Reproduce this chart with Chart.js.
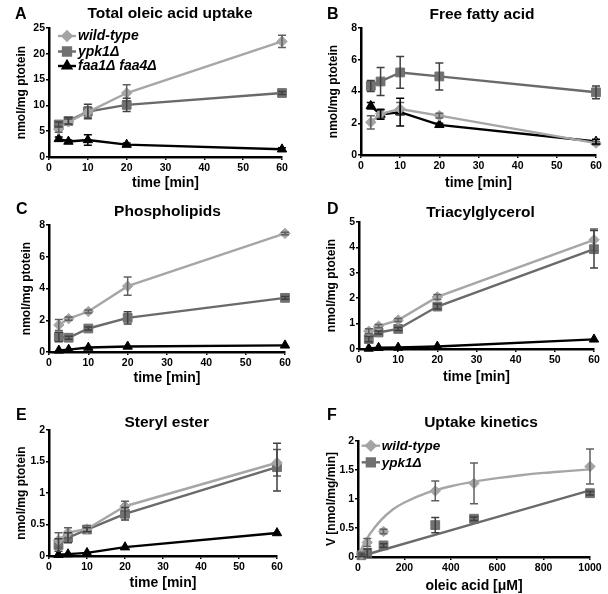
<!DOCTYPE html>
<html>
<head>
<meta charset="utf-8">
<script src="https://cdn.jsdelivr.net/npm/chart.js@4.4.0/dist/chart.umd.min.js"></script>
<style>
  body { margin: 0; background: #fff; }
  #fig { position: relative; width: 608px; height: 594px; }
  canvas { position: absolute; }
</style>
</head>
<body>
<div id="fig">
  <canvas id="panelA" width="304" height="195" style="left:0;top:0"></canvas>
  <canvas id="panelB" width="304" height="195" style="left:304px;top:0"></canvas>
  <canvas id="panelC" width="304" height="200" style="left:0;top:195px"></canvas>
  <canvas id="panelD" width="304" height="200" style="left:304px;top:195px"></canvas>
  <canvas id="panelE" width="304" height="199" style="left:0;top:395px"></canvas>
  <canvas id="panelF" width="304" height="199" style="left:304px;top:395px"></canvas>
</div>
<script>
const strains = ["wild-type", "ypk1Δ", "faa1Δ faa4Δ"];
const timePoints = [2.5, 5, 10, 20, 60];

// A - total oleic acid uptake
const uptakeWt = [5.4, 6.8, 8.7, 12.4, 22.4];
const uptakeWtErr = [0.6, 0.5, 1.0, 1.6, 1.2];
const uptakeYpk = [6.3, 7.0, 8.8, 10.1, 12.4];
const uptakeYpkErr = [0.5, 0.6, 1.4, 1.3, 0.3];
const uptakeFaa = [3.5, 3.0, 3.3, 2.4, 1.5];
const uptakeFaaErr = [0.4, 0.3, 1.0, 0.3, 0.3];

// B - free fatty acid
const ffaWt = [2.06, 2.6, 2.9, 2.48, 0.75];
const ffaWtErr = [0.42, 0.3, 0.4, 0.15, 0.1];
const ffaYpk = [4.35, 4.63, 5.2, 4.95, 3.95];
const ffaYpkErr = [0.35, 0.88, 1.0, 0.85, 0.4];
const ffaFaa = [3.1, 2.55, 2.7, 1.9, 0.85];
const ffaFaaErr = [0.2, 0.3, 0.88, 0.1, 0.15];

// C - phospholipids
const plWt = [1.7, 2.1, 2.55, 4.15, 7.47];
const plWtErr = [0.35, 0.1, 0.1, 0.58, 0.08];
const plYpk = [0.95, 0.9, 1.48, 2.15, 3.41];
const plYpkErr = [0.3, 0.1, 0.1, 0.38, 0.08];
const plFaa = [0.1, 0.15, 0.28, 0.35, 0.42];
const plFaaErr = [0, 0, 0, 0, 0];

// D - triacylglycerol
const tagWt = [0.7, 0.9, 1.14, 2.05, 4.3];
const tagWtErr = [0.1, 0.06, 0.06, 0.1, 0.42];
const tagYpk = [0.39, 0.65, 0.79, 1.67, 3.93];
const tagYpkErr = [0.1, 0.06, 0.06, 0.1, 0.74];
const tagFaa = [0.02, 0.05, 0.06, 0.1, 0.38];
const tagFaaErr = [0, 0, 0, 0, 0];

// E - steryl ester
const seWt = [0.25, 0.37, 0.43, 0.79, 1.48];
const seWtErr = [0.12, 0.08, 0.05, 0.08, 0.21];
const seYpk = [0.175, 0.29, 0.42, 0.67, 1.41];
const seYpkErr = [0.1, 0.08, 0.03, 0.1, 0.38];
const seFaa = [0.02, 0.03, 0.05, 0.14, 0.365];
const seFaaErr = [0, 0, 0, 0, 0];

// F - uptake kinetics
const oleicConc = [15, 40, 110, 333, 500, 1000];
const kinWt = [0.05, 0.25, 0.44, 1.14, 1.27, 1.56];
const kinWtErr = [0.03, 0.07, 0.04, 0.17, 0.35, 0.3];
const kinYpk = [0.03, 0.07, 0.2, 0.55, 0.66, 1.1];
const kinYpkErr = [0.02, 0.07, 0.03, 0.13, 0.03, 0.03];
const fitWtX = [0, 20, 50, 100, 150, 200, 300, 400, 500, 600, 700, 800, 900, 1000];
const fitWtY = [0, 0.18, 0.39, 0.64, 0.82, 0.94, 1.11, 1.22, 1.3, 1.36, 1.41, 1.45, 1.48, 1.51];
const fitYpkX = [0, 1000];
const fitYpkY = [0, 1.15];

Chart.defaults.font.family = "'Liberation Sans', Arial, sans-serif";
Chart.defaults.color = "#000";

const styles = [
  { line: "#a6a6a6", mark: "#a4a4a4", err: "#606060", point: "rectRot", radius: 5.2 },
  { line: "#6a6a6a", mark: "#717171", err: "#404040", point: "rect", radius: 6.2 },
  { line: "#000000", mark: "#000000", err: "#000000", point: "triangle", radius: 5.4 },
];

function series(idx, xs, ys, errs, withLine = true) {
  const s = styles[idx];
  return {
    label: strains[idx],
    data: xs.map((x, i) => ({ x, y: ys[i] })),
    errors: errs,
    errColor: s.err,
    showLine: withLine,
    borderColor: s.line,
    borderWidth: 2.4,
    pointStyle: s.point,
    pointRadius: s.radius,
    pointBackgroundColor: s.mark,
    pointBorderColor: s.mark,
    pointBorderWidth: 1,
    clip: false,
  };
}

function fitLine(idx, xs, ys) {
  return {
    data: xs.map((x, i) => ({ x, y: ys[i] })),
    showLine: true,
    borderColor: styles[idx].line,
    borderWidth: 2.4,
    pointRadius: 0,
    tension: 0.4,
    cubicInterpolationMode: "monotone",
    clip: false,
  };
}

const errorBars = {
  id: "errorBars",
  afterDatasetsDraw(chart) {
    const { ctx, scales } = chart;
    chart.data.datasets.forEach((ds) => {
      if (!ds.errors) return;
      ctx.save();
      ctx.strokeStyle = ds.errColor;
      ctx.lineWidth = 1.5;
      ds.data.forEach((pt, j) => {
        const e = ds.errors[j];
        if (!e) return;
        const px = scales.x.getPixelForValue(pt.x);
        const top = scales.y.getPixelForValue(pt.y + e);
        const bot = scales.y.getPixelForValue(pt.y - e);
        ctx.beginPath();
        ctx.moveTo(px, top); ctx.lineTo(px, bot);
        ctx.moveTo(px - 4, top); ctx.lineTo(px + 4, top);
        ctx.moveTo(px - 4, bot); ctx.lineTo(px + 4, bot);
        ctx.stroke();
      });
      ctx.restore();
    });
  },
};

function panelText(letter, lx, ly, title, tx, ty) {
  return {
    id: "panelText",
    afterDraw(chart) {
      const ctx = chart.ctx;
      ctx.save();
      ctx.fillStyle = "#000";
      ctx.font = "bold 16px 'Liberation Sans', Arial, sans-serif";
      ctx.textBaseline = "alphabetic";
      ctx.fillText(letter, lx, ly);
      ctx.font = "bold 15.5px 'Liberation Sans', Arial, sans-serif";
      ctx.textAlign = "center";
      ctx.textBaseline = "middle";
      ctx.fillText(title, tx, ty);
      ctx.restore();
    },
  };
}

function legendBox(count, x0, x1, tx, rows, size) {
  return {
    id: "legendBox",
    afterDraw(chart) {
      const ctx = chart.ctx;
      ctx.save();
      for (let i = 0; i < count; i++) {
        const s = styles[i];
        const y = rows[i];
        ctx.strokeStyle = s.line;
        ctx.lineWidth = 2.4;
        ctx.beginPath(); ctx.moveTo(x0, y); ctx.lineTo(x1, y); ctx.stroke();
        ctx.fillStyle = s.mark;
        ctx.strokeStyle = s.mark;
        Chart.helpers.drawPoint(ctx, { pointStyle: s.point, radius: s.radius - 0.6, borderWidth: 1 }, (x0 + x1) / 2, y);
        ctx.fillStyle = "#000";
        ctx.font = "italic bold " + size + "px 'Liberation Sans', Arial, sans-serif";
        ctx.textBaseline = "middle";
        ctx.fillText(strains[i], tx, y + 0.5);
      }
      ctx.restore();
    },
  };
}

const plainNumber = (v) => String(v);

function makePanel(id, geo, datasets, xAxis, yAxis, plugins) {
  new Chart(document.getElementById(id), {
    type: "scatter",
    data: { datasets },
    options: {
      responsive: false,
      animation: false,
      layout: { padding: { left: geo.padL, top: geo.top, right: geo.padR, bottom: geo.padB } },
      plugins: { legend: { display: false }, tooltip: { enabled: false } },
      scales: {
        x: {
          type: "linear", min: xAxis.min, max: xAxis.max,
          afterFit: (s) => { s.height = geo.xH; },
          ticks: { stepSize: xAxis.step, padding: 2, font: { size: 10.5, weight: "bold" }, color: "#000", callback: plainNumber },
          grid: { display: true, drawOnChartArea: false, drawTicks: true, tickLength: 3, color: "#000", lineWidth: 1.5 },
          border: { display: true, color: "#000", width: 2.5 },
          title: { display: true, text: xAxis.title, padding: 0, font: { size: 14, weight: "bold", lineHeight: 1 }, color: "#000" },
        },
        y: {
          type: "linear", min: yAxis.min, max: yAxis.max,
          afterFit: (s) => { s.width = geo.yW; },
          ticks: { stepSize: yAxis.step, padding: 1, font: { size: 10.5, weight: "bold" }, color: "#000", callback: plainNumber },
          grid: { display: true, drawOnChartArea: false, drawTicks: true, tickLength: 3, color: "#000", lineWidth: 1.5 },
          border: { display: true, color: "#000", width: 2.5 },
          title: { display: true, text: yAxis.title, padding: 0, font: { size: 12, weight: "bold", lineHeight: 1.2 }, color: "#000" },
        },
      },
    },
    plugins: [errorBars].concat(plugins),
  });
}

const timeAxis = { min: 0, max: 60, step: 10, title: "time [min]" };
const yLabel = "nmol/mg ptotein";

makePanel("panelA", { padL: 14.8, yW: 34.2, top: 28, padR: 22, xH: 33, padB: 5 },
  [series(0, timePoints, uptakeWt, uptakeWtErr), series(1, timePoints, uptakeYpk, uptakeYpkErr), series(2, timePoints, uptakeFaa, uptakeFaaErr)],
  timeAxis, { min: 0, max: 25, step: 5, title: yLabel },
  [panelText("A", 15, 19, "Total oleic acid uptake", 170, 14), legendBox(3, 58, 76, 78, [36, 51.5, 66], 14)]);

makePanel("panelB", { padL: 22.8, yW: 34.2, top: 28, padR: 12, xH: 35, padB: 5 },
  [series(0, timePoints, ffaWt, ffaWtErr), series(2, timePoints, ffaFaa, ffaFaaErr), series(1, timePoints, ffaYpk, ffaYpkErr)],
  timeAxis, { min: 0, max: 8, step: 2, title: yLabel },
  [panelText("B", 23, 19, "Free fatty acid", 178, 14.5)]);

makePanel("panelC", { padL: 19.8, yW: 29.2, top: 30, padR: 19, xH: 33, padB: 10 },
  [series(0, timePoints, plWt, plWtErr), series(1, timePoints, plYpk, plYpkErr), series(2, timePoints, plFaa, plFaaErr)],
  timeAxis, { min: 0, max: 8, step: 2, title: yLabel },
  [panelText("C", 16, 19, "Phospholipids", 167.5, 17)]);

makePanel("panelD", { padL: 20.8, yW: 34.2, top: 27, padR: 14, xH: 35, padB: 11 },
  [series(0, timePoints, tagWt, tagWtErr), series(1, timePoints, tagYpk, tagYpkErr), series(2, timePoints, tagFaa, tagFaaErr)],
  timeAxis, { min: 0, max: 5, step: 1, title: yLabel },
  [panelText("D", 23, 19, "Triacylglycerol", 176.5, 18)]);

makePanel("panelE", { padL: 14.8, yW: 34.2, top: 35, padR: 27, xH: 34, padB: 4 },
  [series(0, timePoints, seWt, seWtErr), series(1, timePoints, seYpk, seYpkErr), series(2, timePoints, seFaa, seFaaErr)],
  timeAxis, { min: 0, max: 2, step: 0.5, title: yLabel },
  [panelText("E", 16, 25, "Steryl ester", 166.7, 27.5)]);

makePanel("panelF", { padL: 20.8, yW: 33.2, top: 46, padR: 18, xH: 36, padB: 1 },
  [fitLine(0, fitWtX, fitWtY), fitLine(1, fitYpkX, fitYpkY),
   series(0, oleicConc, kinWt, kinWtErr, false), series(1, oleicConc, kinYpk, kinYpkErr, false)],
  { min: 0, max: 1000, step: 200, title: "oleic acid [μM]" }, { min: 0, max: 2, step: 0.5, title: "V [nmol/mg/min]" },
  [panelText("F", 23, 25, "Uptake kinetics", 177, 27.5), legendBox(2, 57.7, 76, 77.7, [50.7, 67.3], 13.5)]);
</script>
</body>
</html>
